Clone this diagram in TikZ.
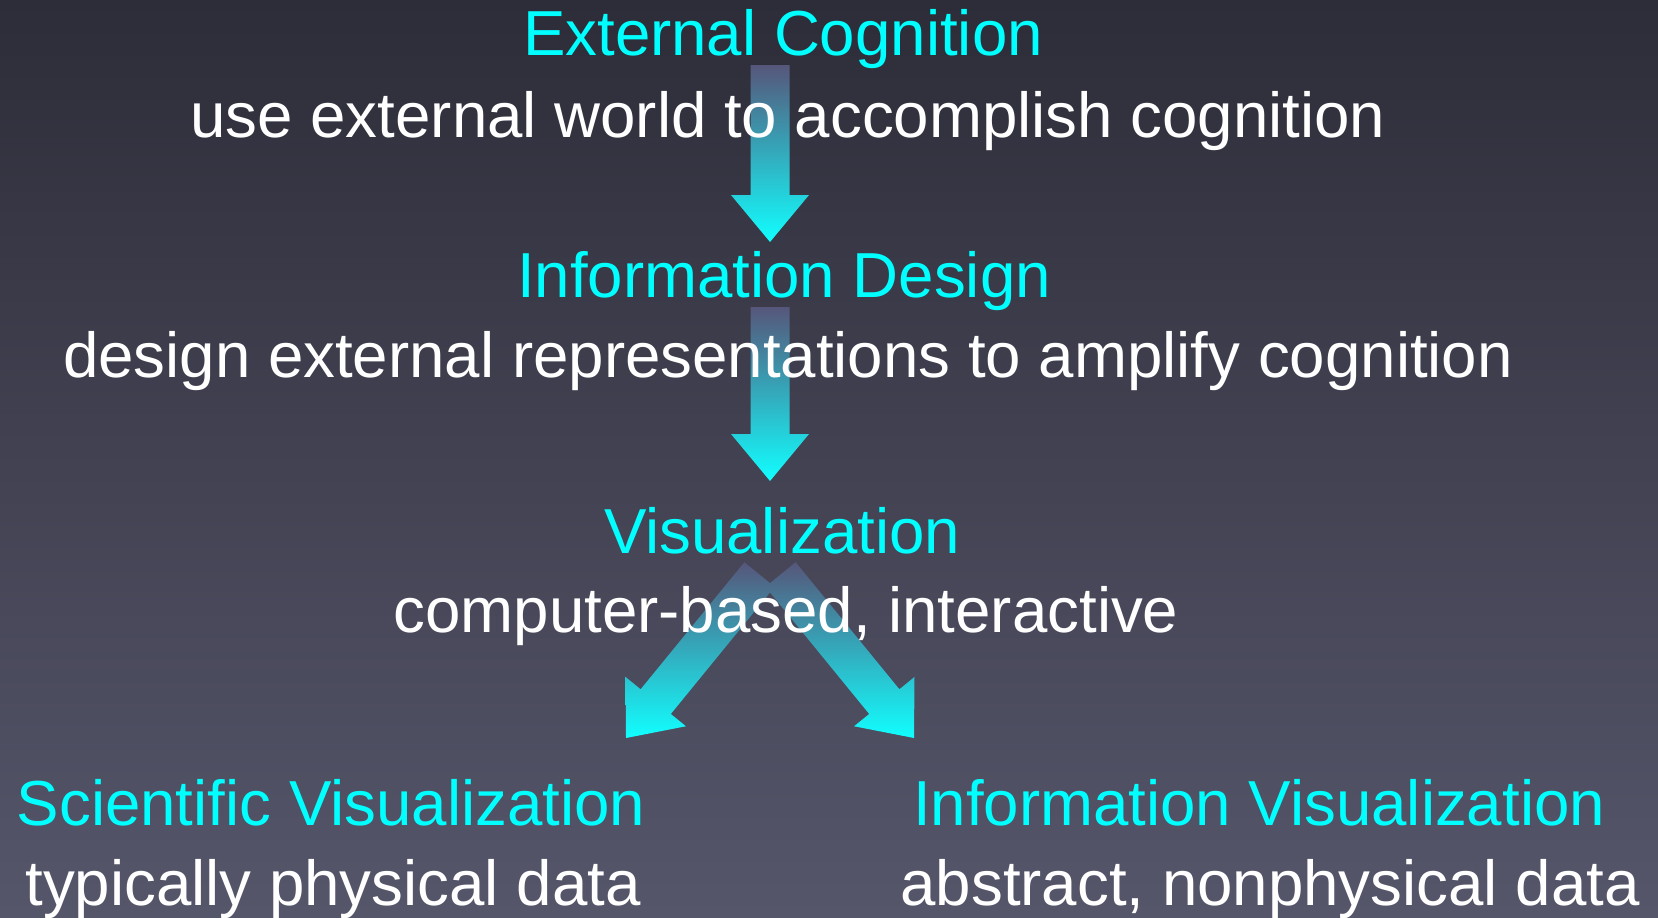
\documentclass[tikz,border=0pt]{standalone}
\usepackage{fontspec}
\setmainfont{Liberation Sans}
\usepackage{tikz}
\usetikzlibrary{calc,positioning}

\definecolor{bgtop}{RGB}{45,45,57}
\definecolor{bgbot}{RGB}{86,86,107}
\definecolor{flowtop}{RGB}{86,86,122}
\definecolor{flowbot}{RGB}{17,255,255}
\definecolor{headcyan}{RGB}{0,255,255}

\begin{document}
\begin{tikzpicture}[
		headline/.style={text=headcyan, anchor=base, inner sep=0pt, font=\fontsize{18.1}{22}\selectfont},
		subline/.style={text=white, anchor=base, inner sep=0pt, font=\fontsize{18.1}{22}\selectfont},
		flow/.style={top color=flowtop, bottom color=flowbot, draw=none}
	]

		% Slide background
		\useasboundingbox (0,0) rectangle (16.58,9.17);
		\shade[top color=bgtop, bottom color=bgbot] (0,0) rectangle (16.58,9.17);

		% Arrow ends
		\coordinate (s1) at (7.70,8.52);
		\coordinate (t1) at (7.70,6.75);
		\coordinate (s2) at (7.70,6.10);
		\coordinate (t2) at (7.70,4.36);
		\coordinate (s3) at (7.595,3.425);
		\coordinate (t3) at (6.26,1.79);
		\coordinate (s4) at (7.805,3.425);
		\coordinate (t4) at (9.14,1.79);

		% Block arrows (shaded)
		\foreach \s/\t in {s1/t1,s2/t2,s3/t3,s4/t4} {
			\coordinate (h) at ($(\t)!0.47cm!(\s)$);
			\shade[flow] ($(\s)!0.195cm!90:(\t)$) -- ($(h)!0.195cm!90:(\t)$)
				-- ($(h)!0.39cm!90:(\t)$) -- (\t) -- ($(h)!0.39cm!-90:(\t)$)
				-- ($(h)!0.195cm!-90:(\t)$) -- ($(\s)!0.195cm!-90:(\t)$) -- cycle;
		}

		% Labels
		\node[headline] (ext) at (7.83,8.62) {External Cognition};
		\node[subline] (extsub) at (7.88,7.80) {use external world to accomplish cognition};

		\node[headline] (idesign) at (7.84,6.20) {Information Design};
		\node[subline] (idsub) at (7.88,5.40) {design external representations to amplify cognition};

		\node[headline] (vis) at (7.82,3.64) {Visualization};
		\node[subline] (vissub) at (7.86,2.85) {computer-based, interactive};

		\node[headline] (sci) at (3.31,0.92) {Scientific Visualization};
		\node[subline] (scisub) at (3.33,0.12) {typically physical data};

		\node[headline] (info) at (12.59,0.92) {Information Visualization};
		\node[subline] (infosub) at (12.70,0.12) {abstract, nonphysical data};

	\end{tikzpicture}
\end{document}
